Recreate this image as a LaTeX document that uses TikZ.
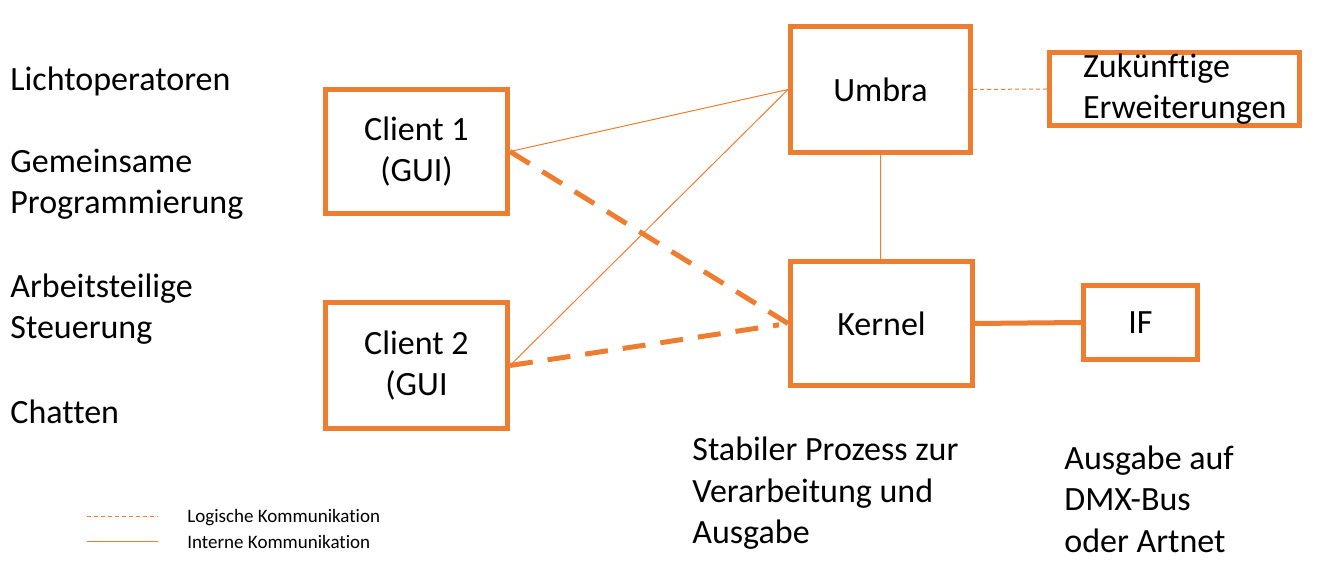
\documentclass[tikz,border=0pt]{standalone}
\usepackage{fontspec}
\setmainfont{Carlito}[Ligatures={NoCommon,NoRequired,NoContextual}]
\definecolor{boxorange}{HTML}{ED7D31}

\begin{document}
\begin{tikzpicture}[x=0.5pt, y=-0.5pt,
		box/.style={draw=boxorange, line width=2.5pt, fill=white, inner sep=0pt, align=center, font=\fontsize{17}{20.7}\selectfont},
		txt/.style={anchor=west, inner sep=0pt, align=left, font=\fontsize{17}{20.7}\selectfont},
		legtxt/.style={anchor=west, inner sep=0pt, font=\fontsize{9.5}{11}\selectfont},
		intern/.style={boxorange, line width=0.5pt},
		logisch/.style={boxorange, line width=0.5pt, dash pattern=on 2pt off 1.5pt},
		strong/.style={boxorange, line width=2.5pt},
		strongdash/.style={boxorange, line width=2.5pt, dash pattern=on 11.5pt off 7.5pt}]

			\useasboundingbox (0, 0) rectangle (1318, 566);

			% left column
			\node[txt] (licht)	at (10, 81)		{Lichtoperatoren};
			\node[txt] (prog)	at (10, 184.5)	{Gemeinsame\\Programmierung};
			\node[txt] (steuer)	at (10, 309)	{Arbeitsteilige\\Steuerung};
			\node[txt] (chat)	at (10, 412)	{Chatten};

			% boxes
			\node[box, minimum width=91pt, minimum height=62pt] (client1) at (416.5, 151.5) {Client 1\\(GUI)};
			\node[box, minimum width=91pt, minimum height=63pt] (client2) at (416.5, 365.5) {Client 2\\(GUI};
			\node[box, minimum width=90pt, minimum height=63pt] (umbra) at (880.5, 89.5) {Umbra};
			\node[box, minimum width=91pt, minimum height=62pt] (kernel) at (881.5, 323.5) {Kernel};
			\node[box, minimum width=57pt, minimum height=37pt] (if) at (1140.5, 322.5) {IF};
			\node[box, align=left, text width=91.5pt, inner xsep=16.75pt, minimum height=36.5pt] (zukunft) at (1174.5, 89) {Zukünftige\\Erweiterungen};

			% connectors
			\draw[intern]		(client1.east) to (umbra.west)
								(client2.east) to (umbra.west)
								(umbra.south) to (umbra.south |- kernel.north);
			\draw[logisch]		(umbra.east) to (zukunft.west);
			\draw[strongdash, shorten >=4.5pt]	(client1.east) to (kernel.west)
								(client2.east) to (kernel.west);
			\draw[strong]		(kernel.east) to (if.west);

			% notes below
			\node[txt] (prozess)	at (692, 493.5)	{Stabiler Prozess zur\\Verarbeitung und\\Ausgabe};
			\node[txt] (ausgabe)	at (1064, 499)	{Ausgabe auf\\DMX-Bus\\oder Artnet};

			% legend
			\coordinate (logA) at (87, 517);
			\coordinate (logB) at (158, 517);
			\coordinate (intA) at (87, 542);
			\coordinate (intB) at (158, 542);
			\draw[logisch]		(logA) to (logB);
			\draw[intern]		(intA) to (intB);
			\node[legtxt] (logtxt) at (187, 518) {Logische Kommunikation};
			\node[legtxt] (inttxt) at (187, 542) {Interne Kommunikation};
		\end{tikzpicture}
\end{document}
